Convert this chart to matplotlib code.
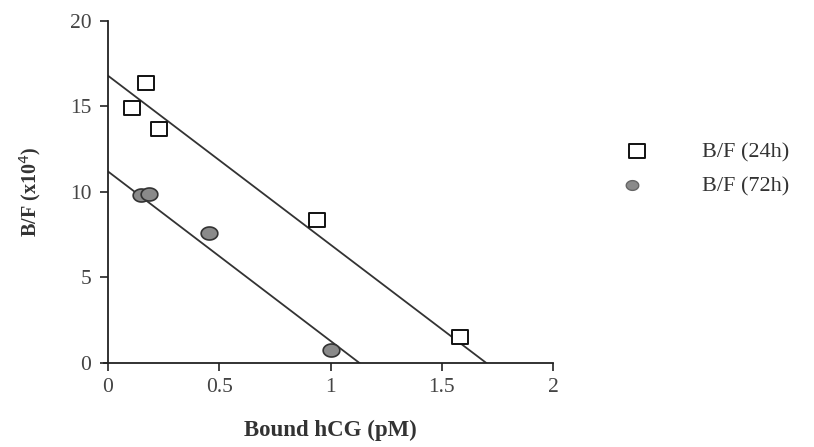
import numpy as np
import matplotlib.pyplot as plt
from matplotlib.path import Path

# Scatchard data
bound_24h = [0.11, 0.17, 0.23, 0.94, 1.58]
bf_24h = [14.9, 16.4, 13.7, 8.35, 1.5]
bound_72h = [0.15, 0.185, 0.455, 1.0]
bf_72h = [9.8, 9.9, 7.6, 0.75]

# fitted lines: (y intercept, x intercept)
fit_24h = (16.8, 1.70)
fit_72h = (11.2, 1.13)

labels = ['B/F (24h)', 'B/F (72h)']

plt.rcParams['font.family'] = ['Liberation Serif', 'DejaVu Serif']

# slightly wide markers (the picture is stretched horizontally)
rect = Path([(-1, -0.78), (1, -0.78), (1, 0.78), (-1, 0.78), (-1, -0.78)],
            [Path.MOVETO, Path.LINETO, Path.LINETO, Path.LINETO, Path.CLOSEPOLY])
t = np.linspace(0, 2 * np.pi, 60)
ellipse = Path(np.column_stack([np.cos(t), 0.78 * np.sin(t)]))

fig = plt.figure(figsize=(8.14, 4.47), dpi=100)
ax = fig.add_axes([0.1327, 0.188, 0.5467, 0.765])

for (y0, x0) in (fit_24h, fit_72h):
    xs = np.array([0, x0])
    ax.plot(xs, y0 - y0 / x0 * xs, color='#333333', lw=1.3, zorder=2)

ax.plot(bound_72h, bf_72h, ls='none', marker=ellipse, ms=12,
        mfc='#8a8a8a', mec='#333333', mew=1.2, zorder=3)
ax.plot(bound_24h, bf_24h, ls='none', marker=rect, ms=12,
        mfc='white', mec='#111111', mew=1.4, zorder=4)

ax.set_xlim(0, 2)
ax.set_ylim(0, 20)
ax.set_xticks([0, 0.5, 1, 1.5, 2])
ax.set_xticklabels(['0', '0.5', '1', '1.5', '2'])
ax.set_yticks([0, 5, 10, 15, 20])
for s in ['top', 'right']:
    ax.spines[s].set_visible(False)
for s in ['left', 'bottom']:
    ax.spines[s].set_linewidth(1.3)
    ax.spines[s].set_color('#222222')
ax.spines['bottom'].set_bounds(-0.02, 2)
ax.tick_params(direction='out', length=6, width=1.2, labelsize=15.5,
               colors='#222222', labelcolor='#444444', pad=6)
ax.tick_params(axis='x', pad=5)
ax.patch.set_alpha(0)

ax.set_xlabel('Bound hCG (pM)', fontsize=16.5, fontweight='bold',
              color='#333333', labelpad=16)
ax.set_ylabel('B/F (x10$^{4}$)', fontsize=14.5, fontweight='bold',
              color='#333333', labelpad=19)

# legend drawn in figure coords
fig.lines.append(plt.Line2D([0.782], [1 - 151 / 447], transform=fig.transFigure,
                            ls='none', marker=rect, ms=12, mfc='white',
                            mec='#111111', mew=1.4))
fig.lines.append(plt.Line2D([0.776], [1 - 185 / 447], transform=fig.transFigure,
                            ls='none', marker=ellipse, ms=9, mfc='#8a8a8a',
                            mec='#666666', mew=1.0))
fig.text(0.862, 1 - 153 / 447, labels[0], fontsize=16, color='#333333', va='center')
fig.text(0.862, 1 - 187 / 447, labels[1], fontsize=16, color='#333333', va='center')

fig.savefig('out.png', dpi=100)
